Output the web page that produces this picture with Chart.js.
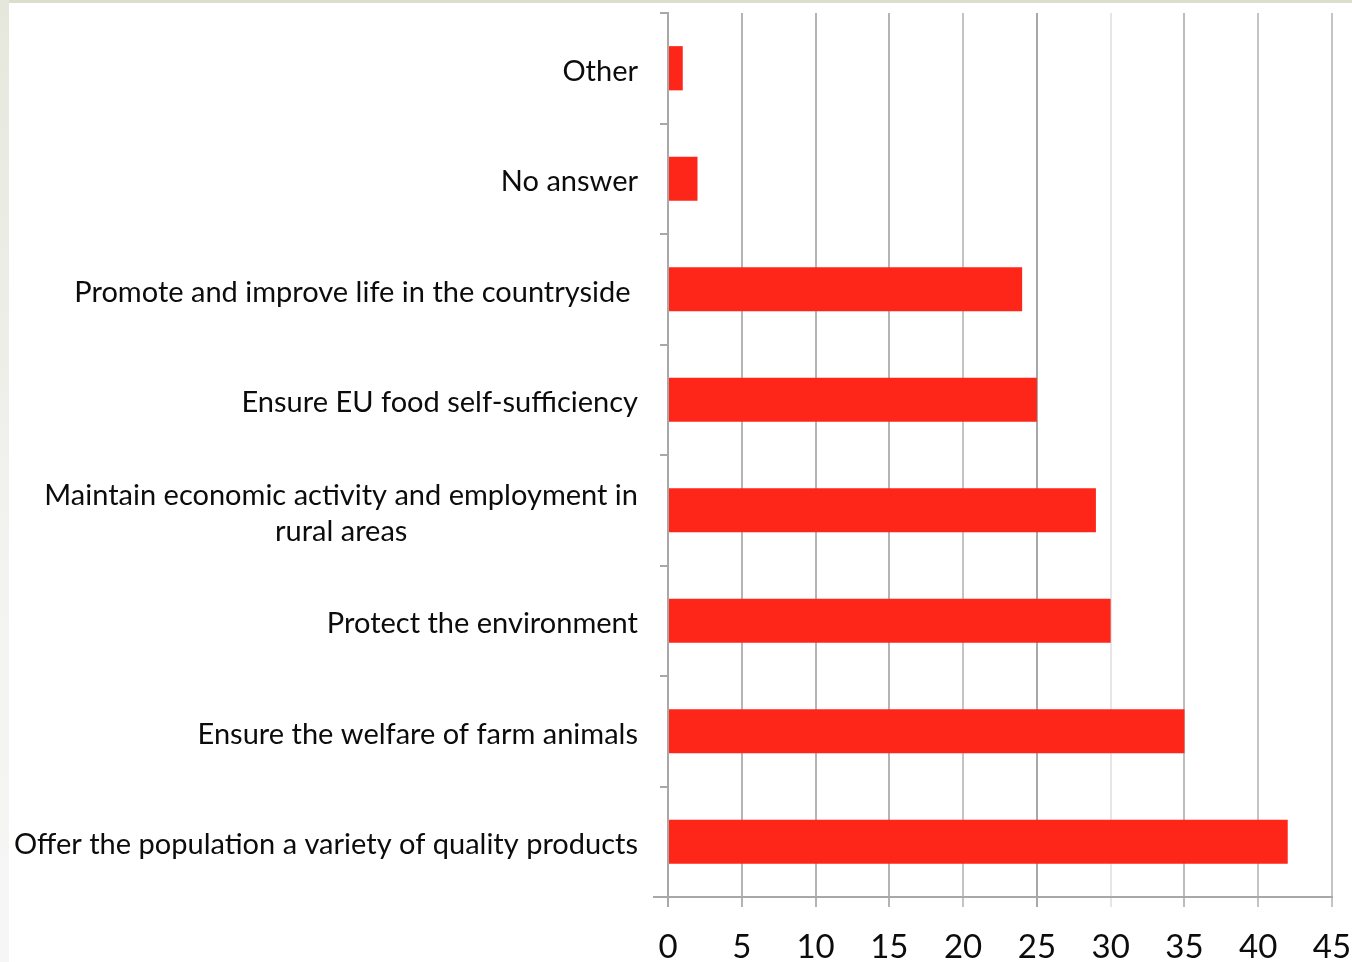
<!DOCTYPE html>
<html>
<head>
<meta charset="utf-8">
<script src="https://cdn.jsdelivr.net/npm/chart.js@4.4.1/dist/chart.umd.min.js"></script>
<style>
  html, body { margin: 0; padding: 0; background: #ffffff; }
  #wrap { position: relative; width: 1352px; height: 962px; overflow: hidden; background: #ffffff; }
  #topstrip { position: absolute; left: 0; top: 0; width: 1352px; height: 3px; background: #dcdecd; }
  #leftstrip { position: absolute; left: 0; top: 0; width: 9px; height: 962px; background: linear-gradient(#e6e7dc, #f3f3f1 60%, #f6f6f6); }
  canvas { position: absolute; left: 0; top: 0; }
</style>
</head>
<body>
<div id="wrap">
  <div id="topstrip"></div>
  <div id="leftstrip"></div>
  <canvas id="c" width="1352" height="962"></canvas>
</div>
<script>
// Data (top to bottom as shown)
const categories = [
  "Other",
  "No answer",
  "Promote and improve life in the countryside ",
  "Ensure EU food self-sufficiency",
  ["Maintain economic activity and employment in", "rural areas"],
  "Protect the environment",
  "Ensure the welfare of farm animals",
  "Offer the population a variety of quality products"
];
const values = [1, 2, 24, 25, 29, 30, 35, 42];
const xMin = 0;
const xMax = 45;
const xStep = 5;

const FONT = "Lato, 'Open Sans', sans-serif";

const labelPlugin = {
  id: 'catLabels',
  afterDraw(chart) {
    const ctx = chart.ctx;
    const ys = chart.scales.y;
    const xs = chart.scales.x;
    ctx.save();
    ctx.font = "29px " + FONT;
    ctx.fillStyle = "#0c0c0c";
    ctx.textBaseline = "middle";
    const rightX = 638;
    const lineH = 36;
    categories.forEach((lab, i) => {
      const y = ys.getPixelForValue(i) + 3;
      const lines = Array.isArray(lab) ? lab : [lab];
      if (lines.length === 1) {
        ctx.textAlign = "right";
        ctx.fillText(lines[0], rightX, y);
      } else {
        const w = Math.max(...lines.map(l => ctx.measureText(l).width));
        const cx = rightX - w / 2;
        ctx.textAlign = "center";
        const y0 = y - (lines.length - 1) * lineH / 2;
        lines.forEach((l, k) => ctx.fillText(l, cx, y0 + k * lineH));
      }
    });
    // extension of the horizontal axis line to the left
    ctx.strokeStyle = "#a8a8a8";
    ctx.lineWidth = 2;
    ctx.beginPath();
    ctx.moveTo(653, xs.top);
    ctx.lineTo(chart.chartArea.left, xs.top);
    ctx.stroke();
    ctx.restore();
  }
};

const gridColors = ["#a8a8a8", "#b4b4b4", "#b4b4b4", "#b4b4b4", "#c4c4c4", "#a8a8a8", "#e6e6e6", "#bdbdbd", "#c4c4c4", "#c4c4c4"];

new Chart(document.getElementById('c'), {
  type: 'bar',
  data: {
    labels: categories,
    datasets: [{
      data: values,
      backgroundColor: '#fe2618',
      borderWidth: 0,
      barPercentage: 0.8,
      categoryPercentage: 0.5
    }]
  },
  options: {
    indexAxis: 'y',
    responsive: false,
    animation: false,
    devicePixelRatio: 1,
    layout: { padding: { top: 13, right: 20, left: 0, bottom: 0 } },
    plugins: { legend: { display: false }, tooltip: { enabled: false } },
    scales: {
      x: {
        min: xMin,
        max: xMax,
        afterFit(scale) { scale.height = 65; scale.paddingRight = 0; scale.paddingLeft = 0; },
        ticks: {
          stepSize: xStep,
          color: '#0c0c0c',
          font: { family: FONT, size: 33 },
          padding: 21
        },
        grid: {
          color: (ctx) => gridColors[ctx.index] || '#b4b4b4',
          lineWidth: 2,
          drawTicks: true,
          tickLength: 10
        },
        border: { display: true, color: '#a8a8a8', width: 2 }
      },
      y: {
        afterFit(scale) { scale.width = 668; scale.paddingTop = 0; scale.paddingBottom = 0; },
        ticks: { display: false },
        grid: {
          offset: true,
          drawOnChartArea: false,
          drawTicks: true,
          tickLength: 8,
          color: '#a8a8a8',
          lineWidth: 2
        },
        border: { display: true, color: '#a8a8a8', width: 2 }
      }
    }
  },
  plugins: [labelPlugin]
});
</script>
</body>
</html>
